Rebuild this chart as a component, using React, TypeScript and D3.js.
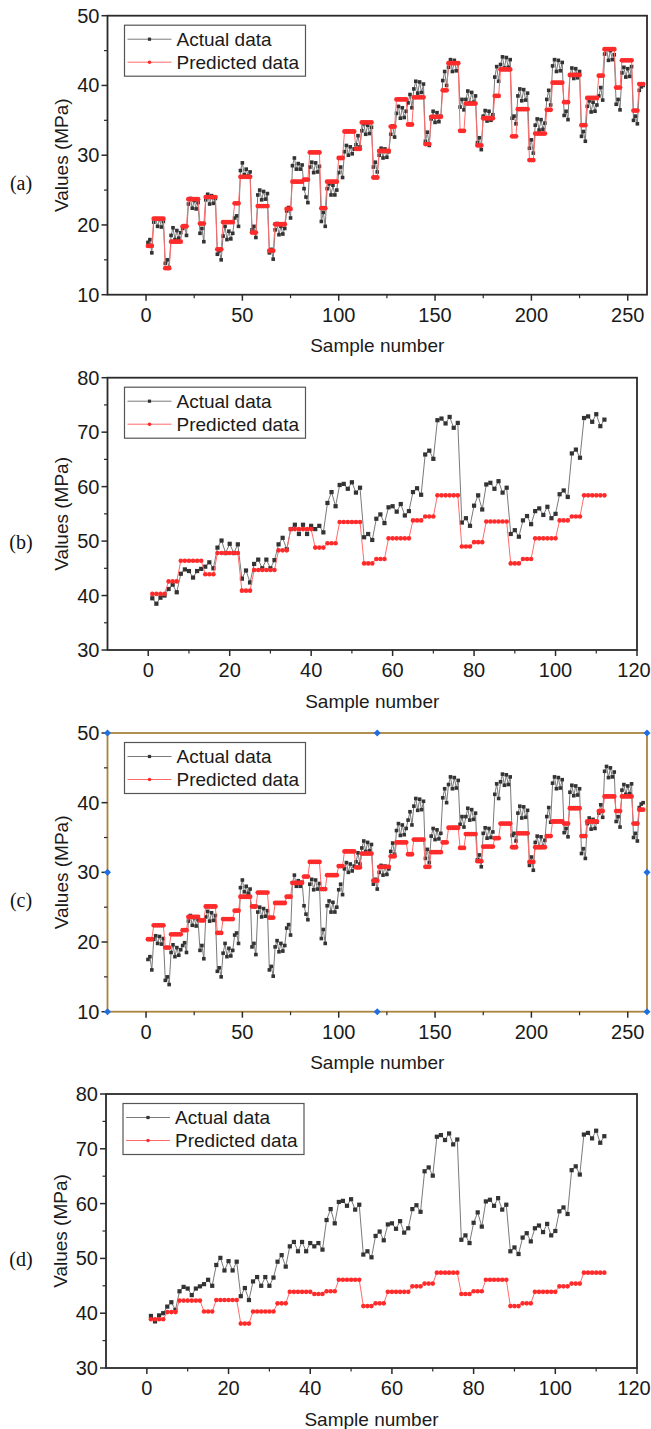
import React from 'react';
import * as d3 from 'd3';

// ---- data ----
// (a)/(c): 258 samples, actual strength
const actualA = [
  17.5, 17.9, 16.0, 20.4, 20.9, 19.8, 20.8, 19.7, 20.5,
  14.5, 15.0, 13.9, 18.5, 19.6, 17.9, 19.2, 18.1, 18.9,
  19.5, 19.9, 18.5, 23.0, 23.8, 22.4, 23.5, 22.3, 23.2,
  18.8, 19.5, 17.6, 23.6, 24.4, 23.0, 24.2, 23.1, 23.8,
  15.8, 16.3, 15.0, 18.4, 19.8, 17.9, 19.1, 18.0, 18.8,
  21.0, 21.3, 19.8, 27.8, 28.9, 27.2, 28.0, 27.0, 27.6,
  19.3, 19.8, 18.2, 24.3, 25.0, 23.6, 24.8, 23.7, 24.5,
  16.0, 16.5, 15.1, 19.3, 20.2, 18.6, 19.8, 18.7, 19.5,
  22.0, 22.5, 21.0, 28.5, 29.6, 28.0, 28.8, 28.0, 28.6,
  25.2, 24.0, 23.2, 28.3, 29.0, 27.5, 28.9, 27.6, 28.4,
  20.5, 21.8, 19.8, 25.2, 25.9, 24.3, 25.7, 24.3, 25.0,
  27.5, 28.3, 26.8, 30.5, 31.4, 30.0, 31.2, 30.2, 30.9,
  31.5, 32.8, 31.2, 33.5, 34.5, 33.0, 34.3, 33.1, 34.0,
  28.3, 29.0, 27.6, 30.0, 31.0, 29.6, 30.9, 29.7, 30.5,
  33.0, 34.2, 32.6, 36.0, 37.0, 35.3, 36.8, 35.4, 36.3,
  37.5, 38.7, 36.8, 39.5, 40.6, 38.9, 40.5, 39.0, 40.2,
  32.0, 33.3, 31.4, 35.2, 36.3, 34.7, 36.1, 34.8, 35.6,
  40.7, 42.0, 40.0, 42.6, 43.7, 42.0, 43.6, 42.1, 43.2,
  36.9, 38.0, 36.5, 38.0, 39.2, 37.5, 39.0, 37.6, 38.5,
  31.8, 32.5, 30.8, 35.6, 36.4, 34.9, 36.3, 35.0, 35.8,
  41.2, 42.7, 40.6, 43.0, 44.1, 42.5, 44.0, 42.6, 43.7,
  35.3, 35.6, 34.5, 38.5, 39.5, 37.8, 39.4, 37.9, 38.9,
  31.0, 32.2, 30.3, 34.3, 35.2, 33.6, 35.1, 33.7, 34.6,
  38.0, 39.3, 37.2, 42.8, 43.7, 42.0, 43.6, 42.1, 43.3,
  35.7, 36.3, 35.1, 41.5, 42.5, 41.0, 42.4, 41.1, 42.0,
  32.7, 33.4, 32.0, 37.0, 37.8, 36.2, 37.6, 36.3, 37.2,
  38.5, 39.7, 37.9, 44.5, 45.2, 43.6, 45.0, 43.7, 44.4,
  37.3, 38.0, 36.5, 41.8, 42.6, 41.2, 42.4, 41.3, 42.7,
  35.0, 35.6, 34.5, 39.3, 39.8, 40.0,
];

const predictedA = [
  17.0, 17.0, 17.0, 20.9, 20.9, 20.9, 20.9, 20.9, 20.9,
  13.8, 13.8, 13.8, 17.6, 17.6, 17.6, 17.6, 17.6, 17.6,
  19.8, 19.8, 19.8, 23.7, 23.7, 23.7, 23.7, 23.7, 23.7,
  20.2, 20.2, 20.2, 24.0, 24.0, 24.0, 24.0, 24.0, 24.0,
  16.5, 16.5, 16.5, 20.4, 20.4, 20.4, 20.4, 20.4, 20.4,
  23.1, 23.1, 23.1, 26.9, 26.9, 26.9, 26.9, 26.9, 26.9,
  18.9, 18.9, 18.9, 22.7, 22.7, 22.7, 22.7, 22.7, 22.7,
  16.3, 16.3, 16.3, 20.1, 20.1, 20.1, 20.1, 20.1, 20.1,
  22.3, 22.3, 22.3, 26.2, 26.2, 26.2, 26.2, 26.2, 26.2,
  26.5, 26.5, 26.5, 30.4, 30.4, 30.4, 30.4, 30.4, 30.4,
  22.4, 22.4, 22.4, 26.2, 26.2, 26.2, 26.2, 26.2, 26.2,
  29.6, 29.6, 29.6, 33.4, 33.4, 33.4, 33.4, 33.4, 33.4,
  30.9, 30.9, 30.9, 34.7, 34.7, 34.7, 34.7, 34.7, 34.7,
  26.8, 26.8, 26.8, 30.6, 30.6, 30.6, 30.6, 30.6, 30.6,
  34.1, 34.1, 34.1, 38.0, 38.0, 38.0, 38.0, 38.0, 38.0,
  34.4, 34.4, 34.4, 38.3, 38.3, 38.3, 38.3, 38.3, 38.3,
  31.6, 31.6, 31.6, 35.5, 35.5, 35.5, 35.5, 35.5, 35.5,
  39.3, 39.3, 39.3, 43.2, 43.2, 43.2, 43.2, 43.2, 43.2,
  33.5, 33.5, 33.5, 37.4, 37.4, 37.4, 37.4, 37.4, 37.4,
  31.4, 31.4, 31.4, 35.3, 35.3, 35.3, 35.3, 35.3, 35.3,
  38.5, 38.5, 38.5, 42.3, 42.3, 42.3, 42.3, 42.3, 42.3,
  32.7, 32.7, 32.7, 36.6, 36.6, 36.6, 36.6, 36.6, 36.6,
  29.3, 29.3, 29.3, 33.1, 33.1, 33.1, 33.1, 33.1, 33.1,
  36.5, 36.5, 36.5, 40.4, 40.4, 40.4, 40.4, 40.4, 40.4,
  37.6, 37.6, 37.6, 41.5, 41.5, 41.5, 41.5, 41.5, 41.5,
  34.3, 34.3, 34.3, 38.2, 38.2, 38.2, 38.2, 38.2, 38.2,
  41.4, 41.4, 41.4, 45.2, 45.2, 45.2, 45.2, 45.2, 45.2,
  39.7, 39.7, 39.7, 43.6, 43.6, 43.6, 43.6, 43.6, 43.6,
  36.4, 36.4, 36.4, 40.2, 40.2, 40.2,
];

const predictedC = [
  20.4, 20.4, 20.4, 22.4, 22.4, 22.4, 22.4, 22.4, 22.4,
  19.2, 19.2, 19.2, 21.1, 21.1, 21.1, 21.1, 21.1, 21.1,
  21.7, 21.7, 21.7, 23.6, 23.6, 23.6, 23.6, 23.6, 23.6,
  23.1, 23.1, 23.1, 25.1, 25.1, 25.1, 25.1, 25.1, 25.1,
  21.3, 21.3, 21.3, 23.3, 23.3, 23.3, 23.3, 23.3, 23.3,
  24.5, 24.5, 24.5, 26.5, 26.5, 26.5, 26.5, 26.5, 26.5,
  25.1, 25.1, 25.1, 27.1, 27.1, 27.1, 27.1, 27.1, 27.1,
  23.5, 23.5, 23.5, 25.6, 25.6, 25.6, 25.6, 25.6, 25.6,
  26.5, 26.5, 26.5, 28.5, 28.5, 28.5, 28.5, 28.5, 28.5,
  29.4, 29.4, 29.4, 31.5, 31.5, 31.5, 31.5, 31.5, 31.5,
  27.6, 27.6, 27.6, 29.6, 29.6, 29.6, 29.6, 29.6, 29.6,
  30.9, 30.9, 30.9, 33.0, 33.0, 33.0, 33.0, 33.0, 33.0,
  30.7, 30.7, 30.7, 32.7, 32.7, 32.7, 32.7, 32.7, 32.7,
  28.8, 28.8, 28.8, 30.8, 30.8, 30.8, 30.8, 30.8, 30.8,
  32.3, 32.3, 32.3, 34.3, 34.3, 34.3, 34.3, 34.3, 34.3,
  32.6, 32.6, 32.6, 34.7, 34.7, 34.7, 34.7, 34.7, 34.7,
  30.8, 30.8, 30.8, 32.9, 32.9, 32.9, 32.9, 32.9, 32.9,
  34.3, 34.3, 34.3, 36.4, 36.4, 36.4, 36.4, 36.4, 36.4,
  33.5, 33.5, 33.5, 35.5, 35.5, 35.5, 35.5, 35.5, 35.5,
  31.6, 31.6, 31.6, 33.7, 33.7, 33.7, 33.7, 33.7, 33.7,
  34.9, 34.9, 34.9, 37.0, 37.0, 37.0, 37.0, 37.0, 37.0,
  33.6, 33.6, 33.6, 35.6, 35.6, 35.6, 35.6, 35.6, 35.6,
  31.5, 31.5, 31.5, 33.6, 33.6, 33.6, 33.6, 33.6, 33.6,
  35.2, 35.2, 35.2, 37.3, 37.3, 37.3, 37.3, 37.3, 37.3,
  37.0, 37.0, 37.0, 39.2, 39.2, 39.2, 39.2, 39.2, 39.2,
  35.2, 35.2, 35.2, 37.3, 37.3, 37.3, 37.3, 37.3, 37.3,
  38.8, 38.8, 38.8, 40.9, 40.9, 40.9, 40.9, 40.9, 40.9,
  38.8, 38.8, 38.8, 40.9, 40.9, 40.9, 40.9, 40.9, 40.9,
  37.0, 37.0, 37.0, 39.0, 39.0, 39.0,
];

// (b)/(d): 112 samples
const actualB = [
  39.5, 38.5, 39.6, 40.0, 41.2, 42.0, 40.6, 44.0, 44.8, 44.5,
  43.3, 44.5, 44.9, 45.3, 46.1, 45.0, 48.8, 50.1, 47.8, 49.5,
  47.8, 49.4, 43.1, 44.6, 42.4, 45.8, 46.6, 45.0, 46.6, 45.0,
  46.5, 49.4, 50.6, 48.5, 52.2, 53.0, 51.3, 53.0, 51.3, 52.8,
  52.2, 52.8, 51.6, 57.0, 59.0, 56.4, 60.3, 60.5, 59.6, 60.8,
  58.9, 59.8, 50.7, 51.3, 50.2, 54.1, 54.9, 53.3, 56.2, 56.4,
  55.4, 56.8, 54.7, 55.5, 59.0, 59.7, 58.5, 65.9, 66.6, 65.1,
  72.2, 72.5, 71.6, 72.8, 70.8, 71.7, 53.4, 54.2, 52.8, 56.5,
  58.4, 55.8, 60.4, 60.7, 59.6, 61.0, 58.9, 59.8, 51.3, 52.0,
  50.8, 53.8, 54.6, 53.1, 55.5, 56.0, 54.8, 56.3, 54.2, 55.0,
  58.6, 59.3, 58.1, 66.1, 66.8, 65.3, 72.6, 72.9, 71.9, 73.3,
  71.1, 72.3,
];

const predictedB = [
  40.3, 40.3, 40.3, 40.3, 42.6, 42.6, 42.6,
  46.4, 46.4, 46.4, 46.4, 46.4, 46.4, 43.9, 43.9, 43.9,
  47.8, 47.8, 47.8, 47.8, 47.8, 47.8, 40.9, 40.9, 40.9,
  44.7, 44.7, 44.7, 44.7, 44.7, 44.7, 48.3, 48.3, 48.3,
  52.2, 52.2, 52.2, 52.2, 52.2, 52.2, 48.8, 48.8, 48.8, 49.6, 49.6, 49.6,
  53.5, 53.5, 53.5, 53.5, 53.5, 53.5, 45.9, 45.9, 45.9, 46.7, 46.7, 46.7,
  50.5, 50.5, 50.5, 50.5, 50.5, 50.5, 53.8, 53.8, 53.8, 54.5, 54.5, 54.5,
  58.4, 58.4, 58.4, 58.4, 58.4, 58.4, 49.0, 49.0, 49.0, 49.8, 49.8, 49.8,
  53.6, 53.6, 53.6, 53.6, 53.6, 53.6, 45.9, 45.9, 45.9, 46.7, 46.7, 46.7,
  50.5, 50.5, 50.5, 50.5, 50.5, 50.5, 53.8, 53.8, 53.8, 54.5, 54.5, 54.5,
  58.4, 58.4, 58.4, 58.4, 58.4, 58.4,
];

const predictedD = [
  38.9, 38.9, 38.9, 38.9, 40.2, 40.2, 40.2,
  42.3, 42.3, 42.3, 42.3, 42.3, 42.3, 40.3, 40.3, 40.3,
  42.4, 42.4, 42.4, 42.4, 42.4, 42.4, 38.1, 38.1, 38.1,
  40.3, 40.3, 40.3, 40.3, 40.3, 40.3, 41.8, 41.8, 41.8,
  43.9, 43.9, 43.9, 43.9, 43.9, 43.9, 43.5, 43.5, 43.5, 44.0, 44.0, 44.0,
  46.1, 46.1, 46.1, 46.1, 46.1, 46.1, 41.3, 41.3, 41.3, 41.8, 41.8, 41.8,
  43.9, 43.9, 43.9, 43.9, 43.9, 43.9, 44.9, 44.9, 44.9, 45.4, 45.4, 45.4,
  47.4, 47.4, 47.4, 47.4, 47.4, 47.4, 43.5, 43.5, 43.5, 44.0, 44.0, 44.0,
  46.1, 46.1, 46.1, 46.1, 46.1, 46.1, 41.3, 41.3, 41.3, 41.8, 41.8, 41.8,
  43.9, 43.9, 43.9, 43.9, 43.9, 43.9, 44.9, 44.9, 44.9, 45.4, 45.4, 45.4,
  47.4, 47.4, 47.4, 47.4, 47.4, 47.4,
];

// axis ticks
const xTicksLong = [0, 50, 100, 150, 200, 250];
const xMinorLong = [25, 75, 125, 175, 225];
const xTicksShort = [0, 20, 40, 60, 80, 100, 120];
const xMinorShort = [10, 30, 50, 70, 90, 110];
const yTicksLow = [10, 20, 30, 40, 50];
const yMinorLow = [15, 25, 35, 45];
const yTicksHigh = [30, 40, 50, 60, 70, 80];
const yMinorHigh = [35, 45, 55, 65, 75];

const legendLabels = ['Actual data', 'Predicted data'];
const xTitle = 'Sample number';
const yTitle = 'Values (MPa)';

const SANS = '"Liberation Sans", Arial, sans-serif';
const SERIF = '"Liberation Serif", "Times New Roman", serif';
const GREY_LINE = '#7a7a7a';
const GREY_MARK = '#333333';
const RED_LINE = '#ff6b6b';
const RED_MARK = '#ff2b2b';
const PAGE_W = 651;

type PanelProps = {
  left: number; right: number; top: number; bottom: number;
  xDomain: [number, number]; yDomain: [number, number];
  xTicks: number[]; xMinor: number[]; yTicks: number[]; yMinor: number[];
  actual: number[]; predicted: number[];
  tag: string; dense: boolean; frame?: string; handles?: boolean;
};

const Panel = (p: PanelProps) => {
  const x = d3.scaleLinear().domain(p.xDomain).range([p.left, p.right]);
  const y = d3.scaleLinear().domain(p.yDomain).range([p.bottom, p.top]);
  const line = d3.line<number>().x((d, i) => x(i + 1)).y(d => y(d));
  const sq = p.dense ? 3.6 : 4.2;
  const rr = p.dense ? 2.4 : 2.3;
  const frameColor = p.frame || '#2a2a2a';
  const midY = (p.top + p.bottom) / 2;
  const midX = (p.left + p.right) / 2;
  const lx = p.left + 17;
  const ly = p.top + 9.5;

  return (
    <g>
      {/* series */}
      <path d={line(p.actual) || ''} fill="none" stroke={GREY_LINE} strokeWidth={1} />
      {p.actual.map((d, i) => (
        <rect key={'a' + i} x={x(i + 1) - sq / 2} y={y(d) - sq / 2} width={sq} height={sq} fill={GREY_MARK} />
      ))}
      <path d={line(p.predicted) || ''} fill="none" stroke={RED_LINE} strokeWidth={1} />
      {p.predicted.map((d, i) => (
        <circle key={'p' + i} cx={x(i + 1)} cy={y(d)} r={rr} fill={RED_MARK} />
      ))}

      {/* frame */}
      <rect x={p.left} y={p.top} width={p.right - p.left} height={p.bottom - p.top}
        fill="none" stroke={frameColor} strokeWidth={1.8} />

      {/* y axis */}
      {p.yTicks.map(t => (
        <g key={'yt' + t}>
          <line x1={p.left - 6} x2={p.left} y1={y(t)} y2={y(t)} stroke="#2a2a2a" strokeWidth={1.5} />
          <text x={p.left - 8} y={y(t)} textAnchor="end" dominantBaseline="central"
            fontFamily={SANS} fontSize={20} fill="#1a1a1a">{t}</text>
        </g>
      ))}
      {p.yMinor.map(t => (
        <line key={'ym' + t} x1={p.left - 3.5} x2={p.left} y1={y(t)} y2={y(t)} stroke="#2a2a2a" strokeWidth={1.2} />
      ))}
      {/* x axis */}
      {p.xTicks.map(t => (
        <g key={'xt' + t}>
          <line x1={x(t)} x2={x(t)} y1={p.bottom} y2={p.bottom + 6} stroke="#2a2a2a" strokeWidth={1.5} />
          <text x={Math.min(x(t), PAGE_W - 17)} y={p.bottom + 20} textAnchor="middle" dominantBaseline="central"
            fontFamily={SANS} fontSize={20} fill="#1a1a1a">{t}</text>
        </g>
      ))}
      {p.xMinor.map(t => (
        <line key={'xm' + t} x1={x(t)} x2={x(t)} y1={p.bottom} y2={p.bottom + 3.5} stroke="#2a2a2a" strokeWidth={1.2} />
      ))}

      {/* titles */}
      <text x={midX} y={p.bottom + 51} textAnchor="middle" dominantBaseline="central"
        fontFamily={SANS} fontSize={19} fill="#1a1a1a">{xTitle}</text>
      <text transform={`translate(${p.left - 46},${midY}) rotate(-90)`} textAnchor="middle"
        dominantBaseline="central" fontFamily={SANS} fontSize={19} fill="#1a1a1a">{yTitle}</text>
      <text x={21} y={midY + 28} textAnchor="middle" dominantBaseline="central"
        fontFamily={SERIF} fontSize={20} fill="#111">{p.tag}</text>

      {/* legend */}
      <rect x={lx} y={ly} width={181} height={51} fill="#fff" stroke="#555" strokeWidth={1.2} />
      <line x1={lx + 3} x2={lx + 47} y1={ly + 14} y2={ly + 14} stroke={GREY_LINE} strokeWidth={1} />
      <rect x={lx + 25 - 1.6} y={ly + 14 - 1.6} width={3.2} height={3.2} fill={GREY_MARK} />
      <text x={lx + 52} y={ly + 14} dominantBaseline="central" fontFamily={SANS} fontSize={19} fill="#1a1a1a">{legendLabels[0]}</text>
      <line x1={lx + 3} x2={lx + 47} y1={ly + 37} y2={ly + 37} stroke={RED_LINE} strokeWidth={1} />
      <circle cx={lx + 25} cy={ly + 37} r={1.8} fill={RED_MARK} />
      <text x={lx + 52} y={ly + 37} dominantBaseline="central" fontFamily={SANS} fontSize={19} fill="#1a1a1a">{legendLabels[1]}</text>

      {/* selection handles (panel c) */}
      {p.handles && [p.left, midX, p.right].flatMap(hx =>
        [p.top, midY, p.bottom].filter(hy => !(hx === midX && hy === midY)).map(hy => (
          <rect key={`h${hx}-${hy}`} x={hx - 2.5} y={hy - 2.5} width={5} height={5}
            fill="#1f6fe0" transform={`rotate(45 ${hx} ${hy})`} />
        ))
      )}
    </g>
  );
};

export default function App() {
  return (
    <svg width={651} height={1429} style={{ position: 'absolute', left: 0, top: 0, background: '#fff' }}>
      <rect width={651} height={1429} fill="#fff" />
      <Panel left={107.5} right={647} top={15.7} bottom={294.7} xDomain={[-20, 260]} yDomain={[10, 50]}
        xTicks={xTicksLong} xMinor={xMinorLong} yTicks={yTicksLow} yMinor={yMinorLow}
        actual={actualA} predicted={predictedA} tag="(a)" dense={true} />
      <Panel left={107.5} right={637} top={377.7} bottom={650} xDomain={[-10, 120]} yDomain={[30, 80]}
        xTicks={xTicksShort} xMinor={xMinorShort} yTicks={yTicksHigh} yMinor={yMinorHigh}
        actual={actualB} predicted={predictedB} tag="(b)" dense={false} />
      <Panel left={107.5} right={647} top={733} bottom={1011.7} xDomain={[-20, 260]} yDomain={[10, 50]}
        xTicks={xTicksLong} xMinor={xMinorLong} yTicks={yTicksLow} yMinor={yMinorLow}
        actual={actualA} predicted={predictedC} tag="(c)" dense={true} frame="#a8843e" handles={true} />
      <Panel left={106} right={637} top={1094} bottom={1368} xDomain={[-10, 120]} yDomain={[30, 80]}
        xTicks={xTicksShort} xMinor={xMinorShort} yTicks={yTicksHigh} yMinor={yMinorHigh}
        actual={actualB} predicted={predictedD} tag="(d)" dense={false} />
    </svg>
  );
}
